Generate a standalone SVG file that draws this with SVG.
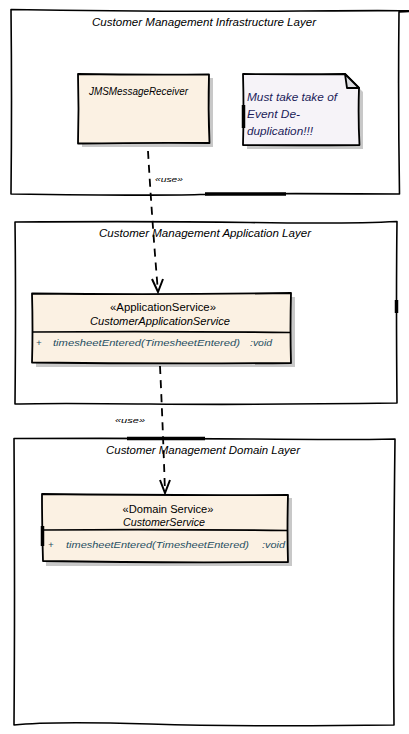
<svg xmlns="http://www.w3.org/2000/svg" width="409" height="734" viewBox="0 0 409 734">
<defs>
<style>
.layer{fill:#ffffff;stroke:#000;stroke-width:1.6;stroke-linejoin:round}
.cls{fill:#FBF1E3;stroke:#000;stroke-width:1.8;stroke-linejoin:round}
.note{fill:#F6F3F8;stroke:#000;stroke-width:1.8;stroke-linejoin:round}
.shadow{fill:#c8c8c8}
.bar{stroke:#000;stroke-width:3.5}
.t{font-family:"Liberation Sans",Arial,sans-serif;font-size:10px;fill:#000}
.ti{font-family:"Liberation Sans",Arial,sans-serif;font-size:10px;font-style:italic;fill:#000}
.nt{font-family:"Liberation Sans",Arial,sans-serif;font-size:10px;font-style:italic;fill:#1c1c5a}
.op{font-family:"Liberation Sans",Arial,sans-serif;font-size:9.5px;font-style:italic;fill:#1f4f62}
.small{font-family:"Liberation Sans",Arial,sans-serif;font-size:8px;font-style:italic;fill:#000}
.dash{fill:none;stroke:#000;stroke-width:1.8;stroke-dasharray:8,6}
.arrow{fill:none;stroke:#000;stroke-width:2;stroke-linejoin:miter}
</style>
</defs>

<g id="infrastructure-layer">
<path class="layer" d="M11,9.5 Q150,12 300,11 T399,12 Q398,100 399.5,194 Q250,193 200,194.5 T11,194 Q12,100 11,9.5 Z"/>
<line class="bar" x1="205" y1="194" x2="286" y2="194"/>
<text class="ti" x="204" y="26" text-anchor="middle" textLength="224" lengthAdjust="spacingAndGlyphs">Customer Management Infrastructure Layer</text>
</g>

<g id="application-layer">
<path class="layer" d="M15,222 Q150,221 250,222.5 T397,221.5 Q396,300 397,403 Q250,405 150,404 T15,404 Q16,300 15,222 Z"/>
<line class="bar" x1="396.5" y1="300" x2="396.5" y2="313"/>
<text class="ti" x="205" y="237" text-anchor="middle" textLength="212" lengthAdjust="spacingAndGlyphs">Customer Management Application Layer</text>
</g>

<g id="domain-layer">
<path class="layer" d="M14,438.5 Q150,438 250,439 T395,439 Q393,600 394,725 Q250,727 150,724 T14,725 Q15,600 14,438.5 Z"/>
<line class="bar" x1="127" y1="438.5" x2="205" y2="438.5"/>
<text class="ti" x="203" y="454" text-anchor="middle" textLength="194" lengthAdjust="spacingAndGlyphs">Customer Management Domain Layer</text>
</g>

<g id="jms-message-receiver">
<rect class="shadow" x="82" y="78" width="131" height="69"/>
<path class="cls" d="M78,74 Q140,75 209,74.5 Q208,110 209.5,143 Q150,142.5 78,143.5 Q79,110 78,74 Z"/>
<text class="ti" x="89" y="95" textLength="99" lengthAdjust="spacingAndGlyphs">JMSMessageReceiver</text>
</g>

<g id="note">
<path class="shadow" d="M247,78 L349,78 L363,92 L363,149 L247,149 Z"/>
<path class="note" d="M243,74 Q300,74.5 345,74 L359,88 Q358,118 359.5,145 Q300,145.5 243,145 Q244,110 243,74 Z"/>
<path class="note" d="M345,74 L359,88 L347,88 Z" style="fill:#dcdce0"/>
<line class="bar" x1="243.5" y1="105" x2="243.5" y2="128"/>
<text class="nt" x="247" y="101" textLength="90" lengthAdjust="spacingAndGlyphs">Must take take of</text>
<text class="nt" x="247" y="118" textLength="53" lengthAdjust="spacingAndGlyphs">Event De-</text>
<text class="nt" x="247" y="135" textLength="66" lengthAdjust="spacingAndGlyphs">duplication!!!</text>
</g>

<g id="customer-application-service">
<rect class="shadow" x="36" y="297" width="259" height="70"/>
<path class="cls" d="M32,293.5 Q160,295 291,293 Q290,330 291,363 Q160,364 32,362.5 Q33,330 32,293.5 Z"/>
<path fill="none" stroke="#000" stroke-width="1.6" d="M32,332 Q160,331 291,332.5"/>
<text class="t" x="163" y="311" text-anchor="middle" textLength="106" lengthAdjust="spacingAndGlyphs">«ApplicationService»</text>
<text class="ti" x="160" y="325" text-anchor="middle" textLength="140" lengthAdjust="spacingAndGlyphs">CustomerApplicationService</text>
<text class="op" x="36" y="346">+</text>
<text class="op" x="53" y="346" textLength="187" lengthAdjust="spacingAndGlyphs">timesheetEntered(TimesheetEntered)</text>
<text class="op" x="250" y="346" textLength="22" lengthAdjust="spacingAndGlyphs">:void</text>
</g>

<g id="customer-service">
<rect class="shadow" x="46" y="498" width="246" height="68"/>
<path class="cls" d="M42,494 Q160,495.5 288,495 Q287,530 288,562 Q160,563 43,561 Q42,530 42,494 Z"/>
<path fill="none" stroke="#000" stroke-width="1.6" d="M42,530 Q160,529 288,530.5"/>
<line class="bar" x1="42.5" y1="526" x2="42.5" y2="546"/>
<text class="t" x="168" y="513" text-anchor="middle" textLength="91" lengthAdjust="spacingAndGlyphs">«Domain Service»</text>
<text class="ti" x="164" y="526" text-anchor="middle" textLength="82" lengthAdjust="spacingAndGlyphs">CustomerService</text>
<text class="op" x="48" y="548">+</text>
<text class="op" x="66" y="548" textLength="183" lengthAdjust="spacingAndGlyphs">timesheetEntered(TimesheetEntered)</text>
<text class="op" x="262" y="548" textLength="23" lengthAdjust="spacingAndGlyphs">:void</text>
</g>

<g id="connectors">
<path class="dash" d="M148,151 Q152,220 158,292"/>
<path class="arrow" d="M152,279 L158,292 L163,279"/>
<text class="small" x="155" y="182" textLength="28" lengthAdjust="spacingAndGlyphs">«use»</text>
<path class="dash" d="M160,366 Q163,430 165,493"/>
<path class="arrow" d="M160,480 L165,493 L170,480"/>
<text class="small" x="115" y="423" textLength="30" lengthAdjust="spacingAndGlyphs">«use»</text>
</g>
</svg>
